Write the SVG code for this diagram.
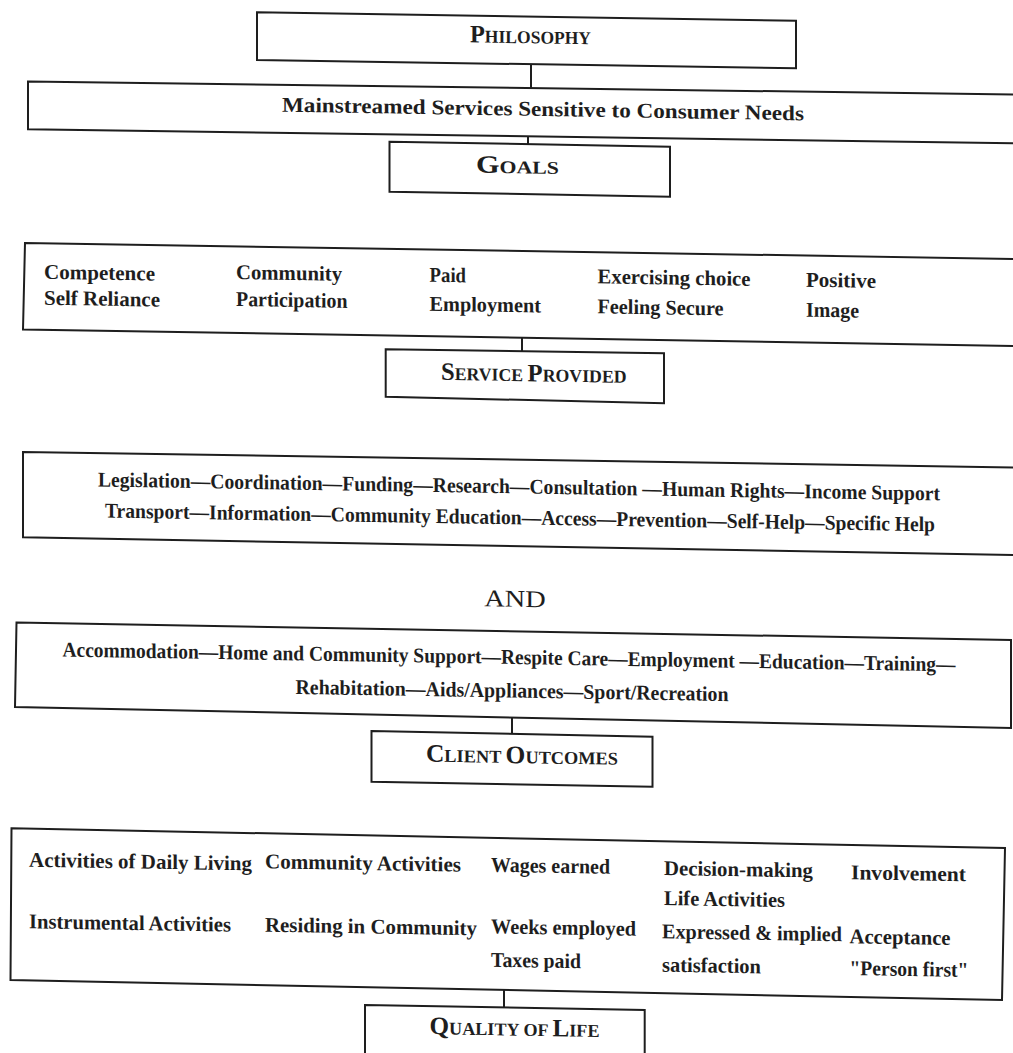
<svg xmlns="http://www.w3.org/2000/svg" width="1013" height="1053" viewBox="0 0 1013 1053">
<style>
.box{fill:none;stroke:#1e1e1e;stroke-width:2;stroke-linejoin:miter}
.con{stroke:#1e1e1e;stroke-width:2}
.t{font-family:"Liberation Serif","Times New Roman",serif;font-weight:bold;font-size:21px;fill:#1e1e1e}
.h{font-family:"Liberation Serif","Times New Roman",serif;font-weight:bold;font-size:18px;fill:#1e1e1e;text-anchor:middle}
.big{font-size:25px}
.m{text-anchor:middle}
.and{font-family:"Liberation Serif","Times New Roman",serif;font-weight:normal;font-size:24px;fill:#1e1e1e;text-anchor:middle}
</style>
<rect width="1013" height="1053" fill="#ffffff"/>

<g id="connectors">
<line class="con" x1="531" y1="64" x2="531" y2="88"/>
<line class="con" x1="528" y1="136" x2="528" y2="144"/>
<line class="con" x1="522" y1="338" x2="522" y2="351"/>
<line class="con" x1="512" y1="717" x2="512" y2="734"/>
<line class="con" x1="504" y1="989" x2="504" y2="1008"/>
</g>

<g id="philosophy">
<polygon class="box" points="257,12.3 796,20.7 796,68.3 257,60"/>
<text class="h" transform="skewY(0.95)" x="530.5" y="34.5" textLength="121" lengthAdjust="spacingAndGlyphs"><tspan class="big">P</tspan>HILOSOPHY</text>
</g>

<g id="mainstreamed">
<polygon class="box" points="28,81.5 1020,94.5 1020,143.3 28,129.3"/>
<text class="t m" transform="skewY(0.95)" x="543" y="107" textLength="522" lengthAdjust="spacingAndGlyphs">Mainstreamed Services Sensitive to Consumer Needs</text>
</g>

<g id="goals">
<polygon class="box" points="389.5,141.7 670,146.7 670,196.7 389.5,191.7"/>
<text class="h" transform="skewY(0.95)" x="517.5" y="164.6" textLength="83" lengthAdjust="spacingAndGlyphs"><tspan class="big">G</tspan>OALS</text>
</g>

<g id="goals-list">
<polygon class="box" points="25,243 1020,259 1020,346 23,329.5"/>
<g transform="skewY(0.95)">
<text class="t" x="44" y="278" textLength="111" lengthAdjust="spacingAndGlyphs">Competence</text>
<text class="t" x="44" y="304" textLength="116" lengthAdjust="spacingAndGlyphs">Self Reliance</text>
<text class="t" x="236" y="275.1" textLength="106" lengthAdjust="spacingAndGlyphs">Community</text>
<text class="t" x="236" y="302.1" textLength="111.5" lengthAdjust="spacingAndGlyphs">Participation</text>
<text class="t" x="429.6" y="274.6" textLength="36.4" lengthAdjust="spacingAndGlyphs">Paid</text>
<text class="t" x="429.6" y="303.6" textLength="111.4" lengthAdjust="spacingAndGlyphs">Employment</text>
<text class="t" x="597.5" y="273.4" textLength="153" lengthAdjust="spacingAndGlyphs">Exercising choice</text>
<text class="t" x="597.5" y="303.4" textLength="126" lengthAdjust="spacingAndGlyphs">Feeling Secure</text>
<text class="t" x="806" y="273.3" textLength="70" lengthAdjust="spacingAndGlyphs">Positive</text>
<text class="t" x="806" y="303.3" textLength="53" lengthAdjust="spacingAndGlyphs">Image</text>
</g>
</g>

<g id="service-provided">
<polygon class="box" points="385.7,349.3 664,353.3 664,403.3 385.7,396.7"/>
<text class="h" transform="skewY(0.95)" x="533.8" y="372.4" textLength="185.6" lengthAdjust="spacingAndGlyphs"><tspan class="big">S</tspan>ERVICE <tspan class="big">P</tspan>ROVIDED</text>
</g>

<g id="service-list">
<polygon class="box" points="23,452 1020,467.5 1020,555 23,537.3"/>
<g transform="skewY(0.95)">
<text class="t m" x="519" y="484.8" textLength="842" lengthAdjust="spacingAndGlyphs">Legislation—Coordination—Funding—Research—Consultation —Human Rights—Income Support</text>
<text class="t m" x="520" y="515.8" textLength="830" lengthAdjust="spacingAndGlyphs">Transport—Information—Community Education—Access—Prevention—Self-Help—Specific Help</text>
</g>
</g>

<g id="and">
<text class="and" transform="skewY(0.95)" x="515" y="598.2" textLength="61.5" lengthAdjust="spacingAndGlyphs">AND</text>
</g>

<g id="service-list-2">
<polygon class="box" points="16.5,622.5 1011,640 1011,728 15,707"/>
<g transform="skewY(0.95)">
<text class="t m" x="509" y="655.5" textLength="893" lengthAdjust="spacingAndGlyphs">Accommodation—Home and Community Support—Respite Care—Employment —Education—Training—</text>
<text class="t m" x="512" y="689" textLength="433" lengthAdjust="spacingAndGlyphs">Rehabitation—Aids/Appliances—Sport/Recreation</text>
</g>
</g>

<g id="client-outcomes">
<polygon class="box" points="371.5,731 652.5,736.7 652.5,786.7 371.5,781.7"/>
<text class="h" transform="skewY(0.95)" x="522" y="754.5" textLength="192" lengthAdjust="spacingAndGlyphs"><tspan class="big">C</tspan>LIENT <tspan class="big">O</tspan>UTCOMES</text>
</g>

<g id="outcomes-list">
<polygon class="box" points="11.5,828.3 1005,848 1002,1000 10.5,980"/>
<g transform="skewY(0.95)">
<text class="t" x="29" y="866.2" textLength="223" lengthAdjust="spacingAndGlyphs">Activities of Daily Living</text>
<text class="t" x="265" y="863.9" textLength="196" lengthAdjust="spacingAndGlyphs">Community Activities</text>
<text class="t" x="491" y="863.6" textLength="119" lengthAdjust="spacingAndGlyphs">Wages earned</text>
<text class="t" x="664" y="864" textLength="149" lengthAdjust="spacingAndGlyphs">Decision-making</text>
<text class="t" x="851" y="865.2" textLength="115" lengthAdjust="spacingAndGlyphs">Involvement</text>
<text class="t" x="664" y="894" textLength="121" lengthAdjust="spacingAndGlyphs">Life Activities</text>
<text class="t" x="29" y="927.8" textLength="202" lengthAdjust="spacingAndGlyphs">Instrumental Activities</text>
<text class="t" x="265" y="927.3" textLength="212" lengthAdjust="spacingAndGlyphs">Residing in Community</text>
<text class="t" x="491" y="925.2" textLength="145" lengthAdjust="spacingAndGlyphs">Weeks employed</text>
<text class="t" x="662" y="927.3" textLength="180" lengthAdjust="spacingAndGlyphs">Expressed &amp; implied</text>
<text class="t" x="849.5" y="929.2" textLength="101" lengthAdjust="spacingAndGlyphs">Acceptance</text>
<text class="t" x="491" y="958.6" textLength="90" lengthAdjust="spacingAndGlyphs">Taxes paid</text>
<text class="t" x="662" y="960.7" textLength="99" lengthAdjust="spacingAndGlyphs">satisfaction</text>
<text class="t" x="849.5" y="960.9" textLength="119" lengthAdjust="spacingAndGlyphs">"Person first"</text>
</g>
</g>

<g id="quality-of-life">
<polygon class="box" points="365,1005 644.7,1010 644.7,1060 365,1060"/>
<text class="h" transform="skewY(0.95)" x="514.5" y="1027" textLength="170" lengthAdjust="spacingAndGlyphs"><tspan class="big">Q</tspan>UALITY OF <tspan class="big">L</tspan>IFE</text>
</g>
</svg>
